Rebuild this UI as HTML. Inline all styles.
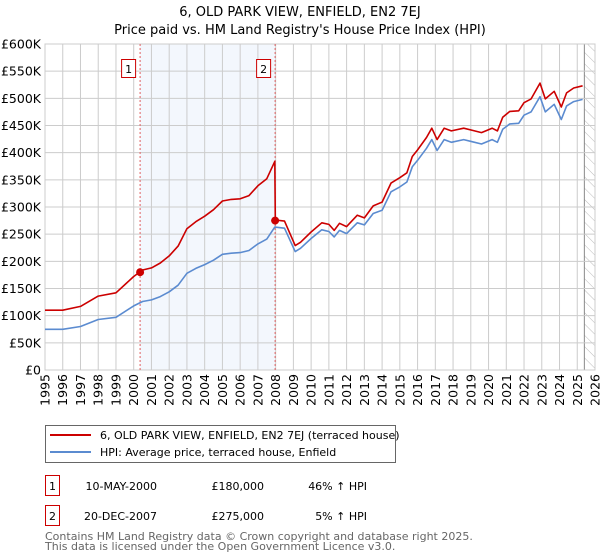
<!DOCTYPE html>
<html><head><meta charset="utf-8"><style>
body{margin:0;background:#fff}
svg{display:block;font-family:"DejaVu Sans","Liberation Sans",sans-serif}
</style></head><body>
<svg id="c" width="600" height="560" viewBox="0 0 600 560">
<text x="300" y="16" text-anchor="middle" font-size="13" fill="#000">6, OLD PARK VIEW, ENFIELD, EN2 7EJ</text>
<text x="300" y="34" text-anchor="middle" font-size="13" fill="#000">Price paid vs. HM Land Registry's House Price Index (HPI)</text>
<g id="plot"></g>
<g>
<rect x="45.5" y="425.5" width="350" height="37" fill="#fff" stroke="#666"/>
<line x1="50" y1="435" x2="91" y2="435" stroke="#cc0000" stroke-width="2"/>
<text x="100" y="439" font-size="11">6, OLD PARK VIEW, ENFIELD, EN2 7EJ (terraced house)</text>
<line x1="50" y1="452" x2="91" y2="452" stroke="#5b8bd0" stroke-width="2"/>
<text x="100" y="456" font-size="11">HPI: Average price, terraced house, Enfield</text>
</g>
<g font-size="11">
<rect x="45.5" y="475.5" width="14" height="20" fill="#fff" stroke="#cc0000"/>
<text x="52.5" y="490" text-anchor="middle">1</text>
<text x="157" y="490" text-anchor="end">10-MAY-2000</text>
<text x="264" y="490" text-anchor="end">£180,000</text>
<text x="367" y="490" text-anchor="end">46% ↑ HPI</text>
<rect x="45.5" y="505.5" width="14" height="20" fill="#fff" stroke="#cc0000"/>
<text x="52.5" y="520" text-anchor="middle">2</text>
<text x="157" y="520" text-anchor="end">20-DEC-2007</text>
<text x="264" y="520" text-anchor="end">£275,000</text>
<text x="367" y="520" text-anchor="end">5% ↑ HPI</text>
</g>
<text x="45" y="540" font-size="11" fill="#666">Contains HM Land Registry data © Crown copyright and database right 2025.</text>
<text x="45" y="550" font-size="11" fill="#666">This data is licensed under the Open Government Licence v3.0.</text>
</svg>
<script>
const hpiYears=[1995,1996,1997,1998,1999,2000,2000.5,2001,2001.5,2002,2002.5,2003,2003.5,2004,2004.5,2005,2005.5,2006,2006.5,2007,2007.5,2007.95,2008.5,2009.1,2009.4,2010,2010.6,2011,2011.3,2011.6,2012,2012.6,2013,2013.5,2014,2014.5,2015,2015.4,2015.7,2016,2016.5,2016.8,2017.1,2017.5,2017.9,2018.6,2019.1,2019.6,2020.2,2020.5,2020.8,2021.2,2021.7,2022,2022.4,2022.9,2023.2,2023.7,2024.1,2024.4,2024.8,2025.3];
const hpiValues=[75,75,80,93,97,118,126,129,135,144,156,178,187,194,202,213,215,216,220,232,241,263,261,218,224,242,258,255,245,257,251,271,267,288,294,328,337,346,374,386,408,424,404,424,419,424,420,416,424,419,443,453,454,469,475,503,475,489,461,486,494,498];
const priceYears=[1995,1996,1997,1998,1999,2000,2000.5,2001,2001.5,2002,2002.5,2003,2003.5,2004,2004.5,2005,2005.5,2006,2006.5,2007,2007.5,2007.95,2007.98,2008.5,2009.1,2009.4,2010,2010.6,2011,2011.3,2011.6,2012,2012.6,2013,2013.5,2014,2014.5,2015,2015.4,2015.7,2016,2016.5,2016.8,2017.1,2017.5,2017.9,2018.6,2019.1,2019.6,2020.2,2020.5,2020.8,2021.2,2021.7,2022,2022.4,2022.9,2023.2,2023.7,2024.1,2024.4,2024.8,2025.3];
const priceValues=[110,110,117,136,142,172,184,188,197,210,228,260,273,283,295,311,314,315,321,339,352,384,276,274,229,235,254,271,268,257,270,264,285,280,302,309,344,354,363,393,405,428,445,424,445,440,445,441,437,445,440,465,476,477,492,499,528,499,513,484,510,519,523];
const saleYears=[2000.36,2007.97];
const saleValues=[180,275];
const saleLabels=["1","2"];
const yTicks=[0,50,100,150,200,250,300,350,400,450,500,550,600];
const yTickLabels=["£0","£50K","£100K","£150K","£200K","£250K","£300K","£350K","£400K","£450K","£500K","£550K","£600K"];
const xTicks=[1995,1996,1997,1998,1999,2000,2001,2002,2003,2004,2005,2006,2007,2008,2009,2010,2011,2012,2013,2014,2015,2016,2017,2018,2019,2020,2021,2022,2023,2024,2025,2026];
const dataEndYear=2025.4;

const L=45,R=595,T=44,B=370,X0=1995,X1=2026,YMAX=600;
const xs=y=>L+(y-X0)/(X1-X0)*(R-L);
const ys=v=>B-v/YMAX*(B-T);
const NS="http://www.w3.org/2000/svg";
const g=document.getElementById('plot');
function mk(t,a,p){const e=document.createElementNS(NS,t);for(const k in a)e.setAttribute(k,a[k]);(p||g).appendChild(e);return e;}

// shaded band between sales
const band=mk('rect',{x:xs(saleYears[0]),y:T,width:xs(saleYears[1])-xs(saleYears[0]),height:B-T,fill:'#eef3fc',opacity:0.7});


// hatch
const defs=mk('defs',{});
const pat=mk('pattern',{id:'h',width:8,height:8,patternUnits:'userSpaceOnUse',patternTransform:'rotate(-45)'},defs);
mk('line',{x1:0,y1:0,x2:0,y2:8,stroke:'#bbb','stroke-width':1},pat);
const hatch=mk('rect',{x:xs(dataEndYear),y:T,width:R-xs(dataEndYear),height:B-T,fill:'url(#h)'});


mk('line',{x1:xs(dataEndYear),y1:T,x2:xs(dataEndYear),y2:B,stroke:'#888','stroke-width':1});

yTicks.forEach((v,i)=>{
  const ln=mk('line',{x1:L,x2:R,y1:ys(v),y2:ys(v),stroke:'#cccccc','stroke-width':1});
  
  
  const t=mk('text',{x:L-4,y:ys(v)+4.5,'text-anchor':'end','font-size':12.5});
  t.textContent=yTickLabels[i];
  
  
});
xTicks.forEach(y=>{
  const ln=mk('line',{x1:xs(y),x2:xs(y),y1:T,y2:B,stroke:'#cccccc','stroke-width':1});
  
  
  const t=mk('text',{x:0,y:0,'text-anchor':'end','font-size':12.5,transform:`translate(${xs(y)+4.5},${B+4}) rotate(-90)`});
  t.textContent=String(y);
  
  
});
mk('rect',{x:L,y:T,width:R-L,height:B-T,fill:'none',stroke:'#cccccc'});

saleYears.forEach((y,i)=>{
  const ln=mk('line',{x1:xs(y),x2:xs(y),y1:T,y2:B,stroke:'#e06060','stroke-width':1,'stroke-dasharray':'2,2'});
  
  
  const bx=mk('rect',{x:xs(y)-18.5,y:59.5,width:14,height:18,fill:'#fff',stroke:'#cc0000'});
  
  
  const t=mk('text',{x:xs(y)-11.5,y:73,'text-anchor':'middle','font-size':11});
  t.textContent=saleLabels[i];
  
  
});

function path(xa,va,color,name){
  const d=xa.map((y,i)=>(i?'L':'M')+xs(y).toFixed(1)+','+ys(va[i]).toFixed(1)).join('');
  const p=mk('path',{d,fill:'none',stroke:color,'stroke-width':1.6,'stroke-linejoin':'round'});
  
  
}
path(hpiYears,hpiValues,'#5b8bd0','hpi-line');
path(priceYears,priceValues,'#cc0000','property-price-line');
saleYears.forEach((y,i)=>{
  const c=mk('circle',{cx:xs(y),cy:ys(saleValues[i]),r:4,fill:'#cc0000'});
  
  
});
</script>
</body></html>
